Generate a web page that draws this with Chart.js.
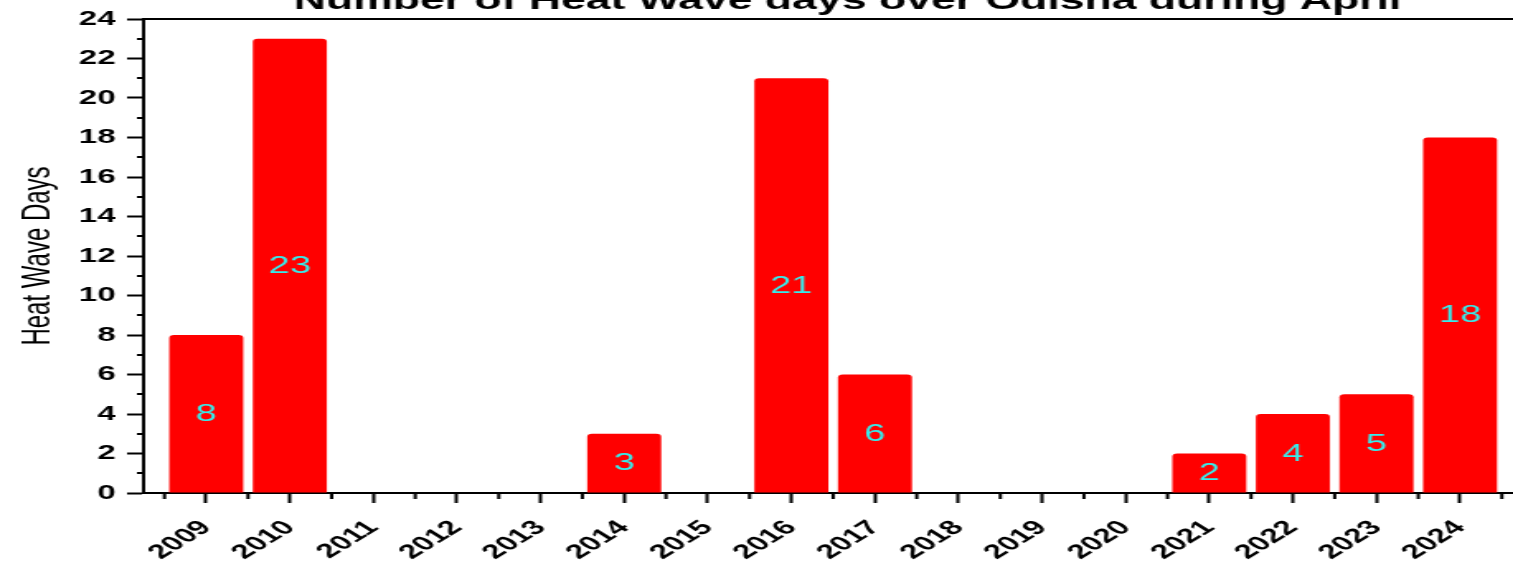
<!DOCTYPE html>
<html>
<head>
<meta charset="utf-8">
<script src="https://cdn.jsdelivr.net/npm/chart.js@4"></script>
<style>
html,body{margin:0;padding:0;background:#fff;overflow:hidden;}
#wrap{width:917px;height:567px;transform:scale(1.65,1);transform-origin:0 0;}
canvas{display:block;}
</style>
</head>
<body>
<div id="wrap"><canvas id="c" width="917" height="567"></canvas></div>
<script>
// ---- data ----
const years = [2009,2010,2011,2012,2013,2014,2015,2016,2017,2018,2019,2020,2021,2022,2023,2024];
const heatWaveDays = [8,23,0,0,0,3,0,21,6,0,0,0,2,4,5,18];
const xTickLabels = ['2009','2010','2011','2012','2013','2014','2015','2016','2017','2018','2019','2020','2021','2022','2023','2024'];
const yTickValues = [0,2,4,6,8,10,12,14,16,18,20,22,24];
const yTickLabels = ['0','2','4','6','8','10','12','14','16','18','20','22','24'];
const yMinorTicks = [1,3,5,7,9,11,13,15,17,19,21,23];
const xMinorTicks = [2008.5,2009.5,2010.5,2011.5,2012.5,2013.5,2014.5,2015.5,2016.5,2017.5,2018.5,2019.5,2020.5,2021.5,2022.5,2023.5,2024.5];
const chartTitle = 'Number of Heat Wave days over Odisha during April';
const yTitle = 'Heat Wave Days';

const FAMILY = '"Liberation Sans", Arial, Helvetica, sans-serif';

const decorPlugin = {
  id: 'decor',
  afterDraw(chart) {
    const ctx = chart.ctx;
    const a = chart.chartArea;
    const xs = chart.scales.x, ys = chart.scales.y;
    ctx.save();
    ctx.strokeStyle = '#000';
    ctx.lineWidth = 2;
    // top frame line
    ctx.beginPath();
    ctx.moveTo(a.left - 1, a.top);
    ctx.lineTo(a.right, a.top);
    ctx.stroke();
    // minor ticks
    ctx.beginPath();
    yMinorTicks.forEach(v => {
      const p = Math.round(ys.getPixelForValue(v));
      ctx.moveTo(a.left - 4, p);
      ctx.lineTo(a.left, p);
    });
    xMinorTicks.forEach(v => {
      const p = xs.getPixelForValue(v);
      ctx.moveTo(p, a.bottom);
      ctx.lineTo(p, a.bottom + 6);
    });
    ctx.stroke();
    // title
    ctx.fillStyle = '#000';
    ctx.font = 'bold 27px ' + FAMILY;
    ctx.textAlign = 'center';
    ctx.textBaseline = 'alphabetic';
    ctx.fillText(chartTitle, a.left + a.width * 0.514, 9);
    ctx.restore();
  },
  afterDatasetsDraw(chart) {
    const ctx = chart.ctx;
    const meta = chart.getDatasetMeta(0);
    ctx.save();
    ctx.fillStyle = '#35eded';
    ctx.font = '23px ' + FAMILY;
    ctx.textAlign = 'center';
    ctx.textBaseline = 'middle';
    meta.data.forEach((el, i) => {
      const v = heatWaveDays[i];
      if (!v) return;
      ctx.fillText(String(v), el.x, (el.y + el.base) / 2 + 1);
    });
    ctx.restore();
  }
};

new Chart(document.getElementById('c'), {
  type: 'bar',
  data: {
    datasets: [{
      data: years.map((yr, i) => ({ x: yr, y: heatWaveDays[i] })),
      backgroundColor: '#ff0000',
      borderWidth: 0,
      borderRadius: { topLeft: 3, topRight: 3, bottomLeft: 0, bottomRight: 0 },
      borderSkipped: 'start',
      barPercentage: 0.885,
      categoryPercentage: 1.0
    }]
  },
  options: {
    responsive: false,
    animation: false,
    events: [],
    layout: { padding: { top: 19, left: 0, right: 0, bottom: 0 } },
    plugins: { legend: { display: false }, title: { display: false }, tooltip: { enabled: false } },
    scales: {
      x: {
        type: 'linear',
        min: 2008.25,
        max: 2024.634,
        offset: false,
        afterBuildTicks: s => { s.ticks = years.map(v => ({ value: v })); },
        afterFit: s => { s.height = 74; },
        ticks: {
          autoSkip: false,
          maxRotation: 45,
          minRotation: 45,
          padding: 13,
          color: '#000',
          font: { family: FAMILY, size: 20, weight: 'bold' },
          callback: (v, i) => xTickLabels[i]
        },
        grid: { offset: false, drawOnChartArea: false, drawTicks: true, tickLength: 10, tickWidth: 2, tickColor: '#000' },
        border: { display: true, width: 2, color: '#000' }
      },
      y: {
        type: 'linear',
        min: 0,
        max: 24,
        afterBuildTicks: s => { s.ticks = yTickValues.map(v => ({ value: v })); },
        afterFit: s => { s.width = 87; },
        ticks: {
          padding: 7,
          color: '#000',
          font: { family: FAMILY, size: 20, weight: 'bold' },
          callback: (v, i) => yTickLabels[i]
        },
        grid: { drawOnChartArea: false, drawTicks: true, tickLength: 10, tickWidth: 2, tickColor: '#000' },
        border: { display: true, width: 2, color: '#000' },
        title: {
          display: true,
          text: yTitle,
          color: '#000',
          font: { family: FAMILY, size: 24, weight: 'normal', lineHeight: 1 },
          padding: { top: 11, bottom: 0 }
        }
      }
    }
  },
  plugins: [decorPlugin]
});
</script>
</body>
</html>
